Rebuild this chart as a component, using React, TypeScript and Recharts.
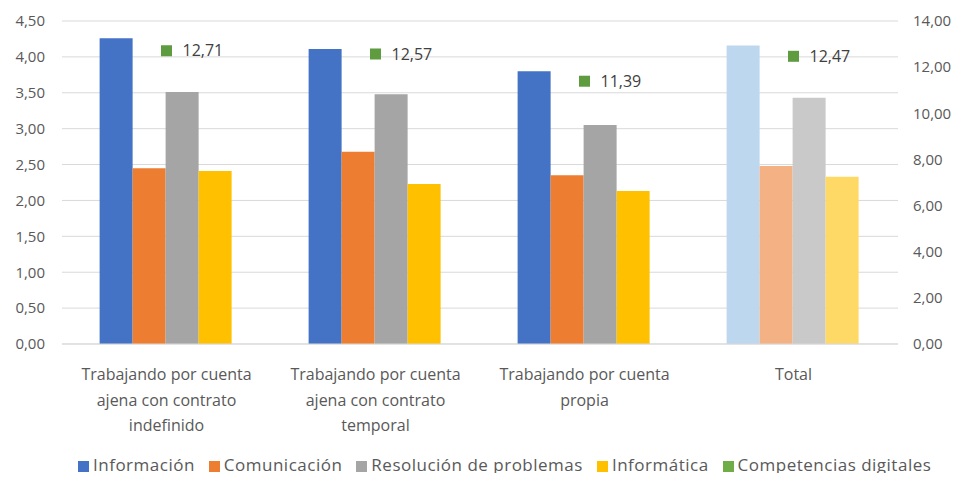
import React from 'react';
import {
  ComposedChart, Bar, Line, Cell, XAxis, YAxis, CartesianGrid, Legend, LabelList,
} from 'recharts';

const categoryLines = [
  ['Trabajando por cuenta', 'ajena con contrato', 'indefinido'],
  ['Trabajando por cuenta', 'ajena con contrato', 'temporal'],
  ['Trabajando por cuenta', 'propia'],
  ['Total'],
];
const categories = categoryLines.map((l) => l.join(' '));

const informacion = [4.26, 4.11, 3.8, 4.16];
const comunicacion = [2.45, 2.68, 2.35, 2.48];
const resolucion = [3.51, 3.48, 3.05, 3.43];
const informatica = [2.41, 2.23, 2.13, 2.33];
const competencias = [12.71, 12.57, 11.39, 12.47];

const leftTicks = [0, 0.5, 1, 1.5, 2, 2.5, 3, 3.5, 4, 4.5];
const rightTicks = [0, 2, 4, 6, 8, 10, 12, 14];

const data = categories.map((cat, i) => ({
  cat,
  informacion: informacion[i],
  comunicacion: comunicacion[i],
  resolucion: resolucion[i],
  informatica: informatica[i],
  competencias: competencias[i],
}));

const series = [
  { key: 'informacion', name: 'Información', color: '#4472c4', light: '#bdd7ee' },
  { key: 'comunicacion', name: 'Comunicación', color: '#ed7d31', light: '#f4b183' },
  { key: 'resolucion', name: 'Resolución de problemas', color: '#a5a5a5', light: '#c9c9c9' },
  { key: 'informatica', name: 'Informática', color: '#ffc000', light: '#ffd966' },
];

const FONT = '"Open Sans", sans-serif';
const fmt = (v: number) => v.toFixed(2).replace('.', ',');

const CategoryTick = (props: any) => {
  const { x, y, payload } = props;
  const lines = categoryLines[payload.index] ?? [payload.value];
  return (
    <text x={x} y={y + 34} textAnchor="middle" fill="#595959" fontSize={16} fontFamily={FONT}>
      {lines.map((line: string, i: number) => (
        <tspan key={i} x={x} dy={i === 0 ? 0 : 25.5}>{line}</tspan>
      ))}
    </text>
  );
};

const SquareDot = (props: any) => {
  const { cx, cy, index } = props;
  return <rect key={index} x={cx - 5.5} y={cy - 5.5} width={11} height={11} fill="#5e9c3f" />;
};

export default function App() {
  return (
    <div style={{ margin: -8, background: '#fff' }}>
      <ComposedChart
        width={963}
        height={481}
        data={data}
        margin={{ top: 21, right: 0, left: 0, bottom: 0 }}
        barCategoryGap="18%"
        barGap={0}
      >
        <CartesianGrid yAxisId="left" vertical={false} stroke="#d9d9d9" />
        <XAxis
          dataKey="cat"
          height={117}
          tickLine={false}
          tickSize={0}
          axisLine={{ stroke: '#d9d9d9' }}
          tick={<CategoryTick />}
          interval={0}
        />
        <YAxis
          yAxisId="left"
          width={62}
          domain={[0, 4.5]}
          ticks={leftTicks}
          axisLine={false}
          tickLine={false}
          tickSize={0}
          tickMargin={17}
          tickFormatter={fmt}
          tick={{ fill: '#595959', fontSize: 15, fontFamily: FONT }}
        />
        <YAxis
          yAxisId="right"
          orientation="right"
          width={65}
          domain={[0, 14]}
          ticks={rightTicks}
          axisLine={false}
          tickLine={false}
          tickSize={0}
          tickMargin={15}
          tickFormatter={fmt}
          tick={{ fill: '#595959', fontSize: 15, fontFamily: FONT, textAnchor: 'start' }}
        />
        {series.map((s) => (
          <Bar key={s.key} yAxisId="left" dataKey={s.key} name={s.name} fill={s.color} isAnimationActive={false}>
            {data.map((_, i) => (
              <Cell key={i} fill={i === data.length - 1 ? s.light : s.color} />
            ))}
          </Bar>
        ))}
        <Line
          yAxisId="right"
          dataKey="competencias"
          name="Competencias digitales"
          stroke="#70ad47"
          strokeWidth={0}
          legendType="square"
          dot={<SquareDot />}
          activeDot={false}
          isAnimationActive={false}
        >
          <LabelList
            dataKey="competencias"
            position="right"
            offset={16}
            formatter={(v: any) => fmt(Number(v))}
            fill="#404040"
            fontSize={16}
            fontFamily={FONT}
          />
        </Line>
        <Legend
          verticalAlign="bottom"
          align="left"
          iconType="square"
          iconSize={11}
          itemSorter={null as any}
          wrapperStyle={{ fontFamily: FONT, fontSize: 17, bottom: 6, left: 78, width: 880, lineHeight: '20px' }}
          formatter={(value: string) => (
            <span style={{ color: '#595959', letterSpacing: 0.5, marginRight: 4 }}>{value}</span>
          )}
        />
      </ComposedChart>
    </div>
  );
}
